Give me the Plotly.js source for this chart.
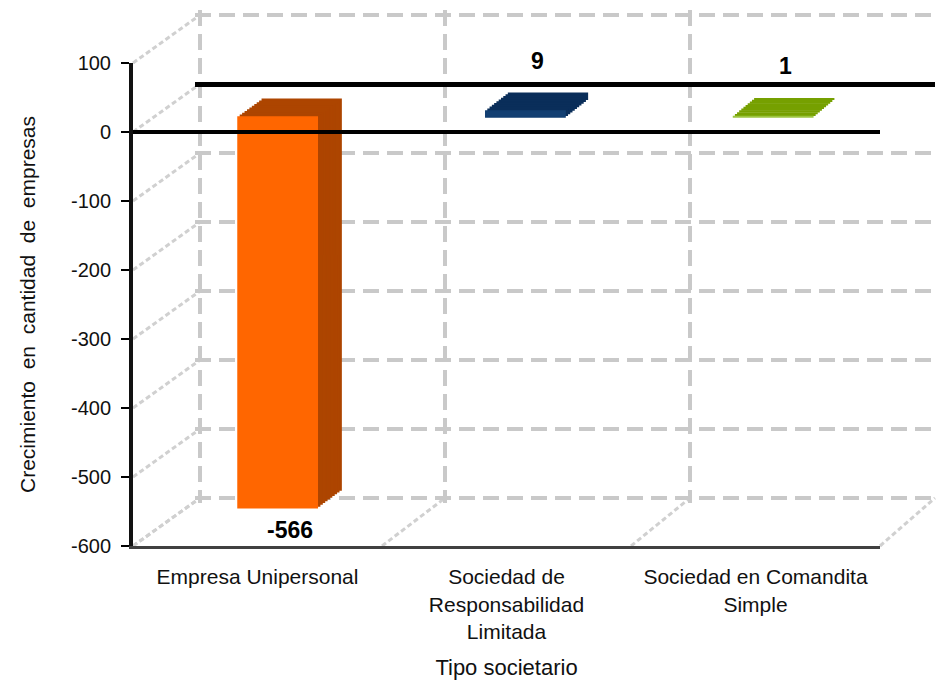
<!DOCTYPE html>
<html><head><meta charset="utf-8">
<script src="https://cdn.plot.ly/plotly-3.0.1.min.js"></script>
<style>html,body{margin:0;padding:0;background:#fff}#chart{width:937px;height:684px}</style>
</head><body><div id="chart"></div>
<script>
// ---- data ----
const categories = ['Empresa Unipersonal', 'Sociedad de Responsabilidad Limitada', 'Sociedad en Comandita Simple'];
const categoryLabels = ['Empresa Unipersonal', 'Sociedad de<br>Responsabilidad<br>Limitada', 'Sociedad en Comandita<br>Simple'];
const growth = [-566, 9, 1];
const faceColors = ['#FF6600', '#123F72', '#9CC540'];
const depthColors = ['#AD4500', '#0A2E5A', '#76A000'];
const yTickVals = [100, 0, -100, -200, -300, -400, -500, -600];
const yTickText = ['100', '0', '-100', '-200', '-300', '-400', '-500', '-600'];
const yRange = [-600, 100];
const xTitle = 'Tipo societario';
const yTitle = 'Crecimiento\u00a0 en\u00a0 cantidad\u00a0 de\u00a0 empresas';

// ---- layout geometry (pseudo 3D) ----
const FONT = "'Liberation Sans', Arial, sans-serif";
const M = {l: 120, r: 0, t: 4, b: 138};
const FW = 937, FH = 684;
const PW = FW - M.l - M.r, PH = FH - M.t - M.b;
const front = {x0: 133, x1: 880, y0: 63, y1: 546};
const back = {x0: 200, x1: 935, y0: 15, y1: 498};
const faceDepth = 0.31, barBackDepth = 0.68, steps = 10;
const edgePad = 5; // px so that the wall's border grid lines are kept

function boxAt(t) {
  return {
    x0: front.x0 + (back.x0 - front.x0) * t,
    x1: front.x1 + (back.x1 - front.x1) * t,
    y0: front.y0 + (back.y0 - front.y0) * t,
    y1: front.y1 + (back.y1 - front.y1) * t
  };
}
const clamp = v => Math.max(0, Math.min(1, v));
function dom(b) {
  return {
    x: [clamp((b.x0 - M.l) / PW), clamp((b.x1 - M.l) / PW)],
    y: [clamp((M.t + PH - b.y1) / PH), clamp((M.t + PH - b.y0) / PH)]
  };
}
const toPX = px => (px - M.l) / PW;
const toPY = py => (M.t + PH - py) / PH;
function yPix(b, v) { return b.y0 + (yRange[1] - v) / (yRange[1] - yRange[0]) * (b.y1 - b.y0); }
function xPix(b, c) { return b.x0 + (c + 0.5) / categories.length * (b.x1 - b.x0); }

const layout = {
  width: FW, height: FH,
  margin: M,
  paper_bgcolor: '#ffffff',
  plot_bgcolor: 'rgba(0,0,0,0)',
  showlegend: false,
  bargap: 0.68,
  font: {family: FONT, color: '#000000'},
  shapes: [],
  annotations: []
};
const traces = [];
let n = 0;
function axName(k, a) { return k === 1 ? a + 'axis' : a + 'axis' + k; }
function axRef(k, a) { return k === 1 ? a : a + k; }

// 1) back wall
n = 1;
{
  const pxCat = (back.x1 - back.x0) / categories.length;
  const pxUnit = (back.y1 - back.y0) / (yRange[1] - yRange[0]);
  const padded = {x0: back.x0 - edgePad, x1: back.x1, y0: back.y0 - edgePad, y1: back.y1 + edgePad};
  const d = dom(padded);
  layout[axName(n, 'x')] = {
    domain: d.x, anchor: axRef(n, 'y'), type: 'linear',
    range: [-0.5 - edgePad / pxCat, categories.length - 0.5],
    tickvals: categories.map((c, i) => i - 0.5).concat([categories.length - 0.5]),
    showticklabels: false, ticks: '', showline: false, zeroline: false,
    showgrid: true, gridcolor: '#C9C9C9', gridwidth: 4, griddash: '16px,8px', fixedrange: true
  };
  layout[axName(n, 'y')] = {
    domain: d.y, anchor: axRef(n, 'x'),
    range: [yRange[0] - edgePad / pxUnit, yRange[1] + edgePad / pxUnit],
    tickvals: yTickVals, showticklabels: false, ticks: '', showline: false,
    showgrid: true, gridcolor: '#C9C9C9', gridwidth: 4, griddash: '16px,8px',
    zeroline: true, zerolinecolor: '#000000', zerolinewidth: 5, fixedrange: true
  };
  // placeholder (no visible marks) so the back-wall subplot is created
  traces.push({type: 'scatter', mode: 'none', x: categories.map((c, i) => i), y: growth,
    xaxis: axRef(n, 'x'), yaxis: axRef(n, 'y'), hoverinfo: 'skip'});
}

// 2) bar depth layers (deepest first), then bar faces
const layerDepths = [];
for (let k = steps; k >= 1; k--) layerDepths.push({t: faceDepth + (barBackDepth - faceDepth) * k / steps, face: false});
layerDepths.push({t: faceDepth, face: true});
let faceRef = null;
layerDepths.forEach(L => {
  n += 1;
  const d = dom(boxAt(L.t));
  const cols = L.face ? faceColors : depthColors;
  layout[axName(n, 'x')] = {domain: d.x, anchor: axRef(n, 'y'), type: 'category', categoryarray: categories, range: [-0.5, categories.length - 0.5], visible: false, fixedrange: true};
  layout[axName(n, 'y')] = {domain: d.y, anchor: axRef(n, 'x'), range: yRange, visible: false, fixedrange: true};
  traces.push({
    type: 'bar', x: categories, y: growth,
    xaxis: axRef(n, 'x'), yaxis: axRef(n, 'y'),
    marker: {color: cols, line: {width: 1.5, color: cols}},
    hoverinfo: 'skip'
  });
  if (L.face) faceRef = n;
});

// 3) front axes
n += 1;
{
  const d = dom(front);
  layout[axName(n, 'x')] = {
    domain: d.x, anchor: axRef(n, 'y'), type: 'category', categoryarray: categories,
    range: [-0.5, categories.length - 0.5],
    tickvals: categories, ticktext: categoryLabels, ticks: '', ticklabelstandoff: 10,
    tickfont: {family: FONT, size: 21, color: '#111111'},
    showline: true, linecolor: '#404040', linewidth: 3, showgrid: false, zeroline: false,
    title: {text: xTitle, font: {family: FONT, size: 22, color: '#111111'}, standoff: 18},
    fixedrange: true
  };
  layout[axName(n, 'y')] = {
    domain: d.y, anchor: axRef(n, 'x'), range: yRange,
    tickvals: yTickVals, ticktext: yTickText, ticks: 'outside', ticklen: 8, tickwidth: 2, tickcolor: '#000000',
    ticklabelstandoff: 6,
    tickfont: {family: FONT, size: 20, color: '#111111'},
    showline: true, linecolor: '#111111', linewidth: 4, showgrid: false,
    zeroline: true, zerolinecolor: '#000000', zerolinewidth: 4,
    title: {text: yTitle, font: {family: FONT, size: 21, color: '#111111'}, standoff: 31},
    fixedrange: true
  };
  traces.push({type: 'scatter', mode: 'none', x: categories, y: growth,
    xaxis: axRef(n, 'x'), yaxis: axRef(n, 'y'), hoverinfo: 'skip'});
}

// side wall and floor guide lines (derived from ticks / category boundaries)
const guide = {color: '#D0D0D0', width: 3, dash: '5px,3px'};
yTickVals.forEach(v => {
  layout.shapes.push({type: 'line', xref: 'paper', yref: 'paper', layer: 'below',
    x0: toPX(front.x0), y0: toPY(yPix(front, v)), x1: toPX(back.x0), y1: toPY(yPix(back, v)), line: guide});
});
for (let c = -0.5; c <= categories.length - 0.5; c += 1) {
  layout.shapes.push({type: 'line', xref: 'paper', yref: 'paper', layer: 'below',
    x0: toPX(xPix(front, c)), y0: toPY(front.y1), x1: toPX(xPix(back, c)), y1: toPY(back.y1), line: guide});
}

// data labels
growth.forEach((v, i) => {
  layout.annotations.push({
    x: categories[i], y: v, xref: axRef(faceRef, 'x'), yref: axRef(faceRef, 'y'),
    text: String(v), showarrow: false, xanchor: 'center', yanchor: 'middle',
    xshift: 12, yshift: v >= 0 ? 50 : -22,
    font: {family: FONT, size: 23, color: '#000000', weight: 'bold'}
  });
});

Plotly.newPlot('chart', traces, layout, {displayModeBar: false, staticPlot: true});
</script></body></html>
